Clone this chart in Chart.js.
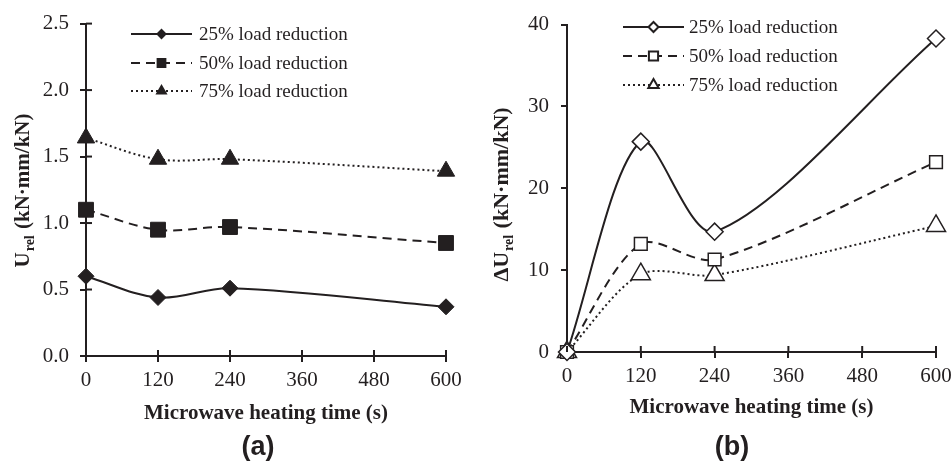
<!DOCTYPE html>
<html>
<head>
<meta charset="utf-8">
<script src="https://cdn.jsdelivr.net/npm/chart.js@4.4.1/dist/chart.umd.min.js"></script>
<style>
  html, body { margin: 0; padding: 0; background: #fff; }
  .panel { position: absolute; top: 0; width: 476px; height: 462px; overflow: hidden; }
</style>
</head>
<body>
<div class="panel" style="left:0"><canvas id="chartA" width="476" height="462"></canvas></div>
<div class="panel" style="left:476px"><canvas id="chartB" width="500" height="462"></canvas></div>

<script>
// x values shared by both panels (microwave heating time, s)
const heatingTimes = [0, 120, 240, 600];
const xTickValues = [0, 120, 240, 360, 480, 600];
const seriesNames = ['25% load reduction', '50% load reduction', '75% load reduction'];

// (a) U_rel
const uRel25 = [0.60, 0.44, 0.51, 0.37];
const uRel50 = [1.10, 0.95, 0.97, 0.85];
const uRel75 = [1.64, 1.48, 1.48, 1.39];
const uRelTicks = [0, 0.5, 1.0, 1.5, 2.0, 2.5];

// (b) delta U_rel
const dURel25 = [0, 25.7, 14.7, 38.3];
const dURel50 = [0, 13.2, 11.3, 23.2];
const dURel75 = [0, 9.5, 9.4, 15.4];
const dURelTicks = [0, 10, 20, 30, 40];

const INK = '#231f20';
const SERIF = "'Liberation Serif', 'Times New Roman', serif";

Chart.defaults.font.family = SERIF;
Chart.defaults.color = INK;

const toPoints = arr => heatingTimes.map((t, i) => ({ x: t, y: arr[i] }));

// legend, y-title with subscript, panel letter, ticks crossing the axes
const extrasPlugin = {
    id: 'extras',
    afterDraw(chart, args, opts) {
        const ctx = chart.ctx;
        const area = chart.chartArea;
        const xs = chart.scales.x, ys = chart.scales.y;
        ctx.save();
        ctx.strokeStyle = INK;
        ctx.lineWidth = 2;

        // inner halves of tick marks
        xs.ticks.forEach(t => {
            const px = xs.getPixelForValue(t.value);
            ctx.beginPath();
            ctx.moveTo(px, area.bottom - 6);
            ctx.lineTo(px, area.bottom);
            ctx.stroke();
        });
        if (opts.yCross) {
            ys.ticks.forEach(t => {
                const py = ys.getPixelForValue(t.value);
                ctx.beginPath();
                ctx.moveTo(area.left, py);
                ctx.lineTo(area.left + 6, py);
                ctx.stroke();
            });
        }

        // legend
        const lg = opts.legend;
        chart.data.datasets.forEach((ds, i) => {
            const yy = lg.rows[i];
            ctx.save();
            ctx.strokeStyle = ds.borderColor;
            ctx.lineWidth = ds.borderWidth;
            ctx.setLineDash(ds.borderDash || []);
            ctx.beginPath();
            ctx.moveTo(lg.x1, yy);
            ctx.lineTo(lg.x2, yy);
            ctx.stroke();
            ctx.restore();

            ctx.save();
            ctx.fillStyle = ds.pointBackgroundColor;
            ctx.strokeStyle = ds.pointBorderColor;
            Chart.helpers.drawPoint(ctx, {
                pointStyle: ds.pointStyle,
                radius: lg.radii[i],
                rotation: 0,
                borderWidth: ds.pointBorderWidth
            }, (lg.x1 + lg.x2) / 2, yy);
            ctx.restore();

            ctx.fillStyle = INK;
            ctx.font = '19px ' + SERIF;
            ctx.textAlign = 'left';
            ctx.textBaseline = 'middle';
            ctx.fillText(ds.label, lg.textX, yy + 1);
        });

        // rotated y title with subscript
        const yt = opts.yTitle;
        const mainFont = 'bold ' + yt.size + 'px ' + SERIF;
        const subFont = 'bold ' + Math.round(yt.size * 0.65) + 'px ' + SERIF;
        ctx.save();
        ctx.translate(yt.x, yt.y);
        ctx.rotate(-Math.PI / 2);
        ctx.fillStyle = INK;
        ctx.textAlign = 'left';
        ctx.textBaseline = 'alphabetic';
        ctx.font = mainFont;
        const w1 = ctx.measureText(yt.main).width;
        const w3 = ctx.measureText(yt.rest).width;
        ctx.font = subFont;
        const w2 = ctx.measureText(yt.sub).width + 1;
        let cx = -(w1 + w2 + w3) / 2;
        ctx.font = mainFont;
        ctx.fillText(yt.main, cx, 7);
        cx += w1 + 1;
        ctx.font = subFont;
        ctx.fillText(yt.sub, cx, 12);
        cx += w2;
        ctx.font = mainFont;
        ctx.fillText(yt.rest, cx, 7);
        ctx.restore();

        // panel letter
        const pl = opts.panel;
        ctx.fillStyle = INK;
        ctx.font = "bold 27px 'Liberation Sans', Arial, sans-serif";
        ctx.textAlign = 'center';
        ctx.textBaseline = 'middle';
        ctx.fillText(pl.text, pl.x, pl.y);

        ctx.restore();
    }
};

function makeDatasets(values, open, radii, tension) {
    const styles = [
        { pointStyle: 'rectRot', borderDash: [] },
        { pointStyle: 'rect', borderDash: [9, 6] },
        { pointStyle: 'triangle', borderDash: [2, 3] }
    ];
    return values.map((arr, i) => ({
        label: seriesNames[i],
        data: toPoints(arr),
        borderColor: INK,
        borderWidth: 2,
        borderDash: styles[i].borderDash,
        pointStyle: styles[i].pointStyle,
        pointRadius: radii[i],
        pointHoverRadius: radii[i],
        pointBackgroundColor: open ? '#ffffff' : INK,
        pointBorderColor: INK,
        pointBorderWidth: open ? 1.5 : 1,
        tension: tension,
        fill: false,
        clip: false
    }));
}

function makeOptions(cfg) {
    return {
        responsive: false,
        animation: false,
        devicePixelRatio: 1,
        layout: { padding: { top: cfg.top, right: cfg.right, bottom: 0, left: 0 } },
        elements: { line: { capBezierPoints: false } },
        plugins: {
            legend: { display: false },
            tooltip: { enabled: false },
            extras: cfg.extras
        },
        scales: {
            x: {
                type: 'linear',
                min: 0,
                max: 600,
                afterBuildTicks: s => { s.ticks = xTickValues.map(v => ({ value: v })); },
                afterFit: s => { s.height = cfg.xHeight; },
                grid: { drawOnChartArea: false, drawTicks: true, tickLength: 6, color: INK, lineWidth: 2 },
                border: { color: INK, width: 2 },
                ticks: { font: { size: 21 }, color: INK, padding: 6, maxRotation: 0 },
                title: {
                    display: true,
                    text: 'Microwave heating time (s)',
                    font: { size: 21, weight: 'bold' },
                    color: INK,
                    padding: { top: 0, bottom: cfg.titleBottom }
                }
            },
            y: {
                type: 'linear',
                min: cfg.yMin,
                max: cfg.yMax,
                afterBuildTicks: s => { s.ticks = cfg.yTicks.map(v => ({ value: v })); },
                afterFit: s => { s.width = cfg.yWidth; },
                grid: { drawOnChartArea: false, drawTicks: true, tickLength: 6, color: INK, lineWidth: 2 },
                border: { color: INK, width: 2 },
                ticks: { font: { size: 21 }, color: INK, padding: cfg.yPad, callback: cfg.yFmt }
            }
        }
    };
}

new Chart(document.getElementById('chartA'), {
    type: 'line',
    data: { datasets: makeDatasets([uRel25, uRel50, uRel75], false, [8, 10.5, 10], 0.35) },
    options: makeOptions({
        top: 19, right: 30, xHeight: 106, yWidth: 86, yPad: 11,
        titleBottom: 36, yMin: 0, yMax: 2.5, yTicks: uRelTicks,
        yFmt: v => Number(v).toFixed(1),
        extras: {
            yCross: true,
            legend: { x1: 131, x2: 192, textX: 199, rows: [34, 63, 91], radii: [4, 5.5, 5] },
            yTitle: { x: 22, y: 191, size: 21, main: 'U', sub: 'rel', rest: ' (kN\u00b7mm/kN)' },
            panel: { text: '(a)', x: 258, y: 448 }
        }
    }),
    plugins: [extrasPlugin]
});

new Chart(document.getElementById('chartB'), {
    type: 'line',
    data: { datasets: makeDatasets([dURel25, dURel50, dURel75], true, [8.5, 9, 11], 0.3) },
    options: makeOptions({
        top: 14, right: 40, xHeight: 110, yWidth: 91, yPad: 12,
        titleBottom: 42, yMin: 0, yMax: 40, yTicks: dURelTicks,
        yFmt: v => String(v),
        extras: {
            yCross: false,
            legend: { x1: 147, x2: 208, textX: 213, rows: [27, 56, 85], radii: [5, 6.5, 6] },
            yTitle: { x: 25, y: 195, size: 22, main: '\u0394U', sub: 'rel', rest: ' (kN\u00b7mm/kN)' },
            panel: { text: '(b)', x: 256, y: 448 }
        }
    }),
    plugins: [extrasPlugin]
});
</script>
</body>
</html>
